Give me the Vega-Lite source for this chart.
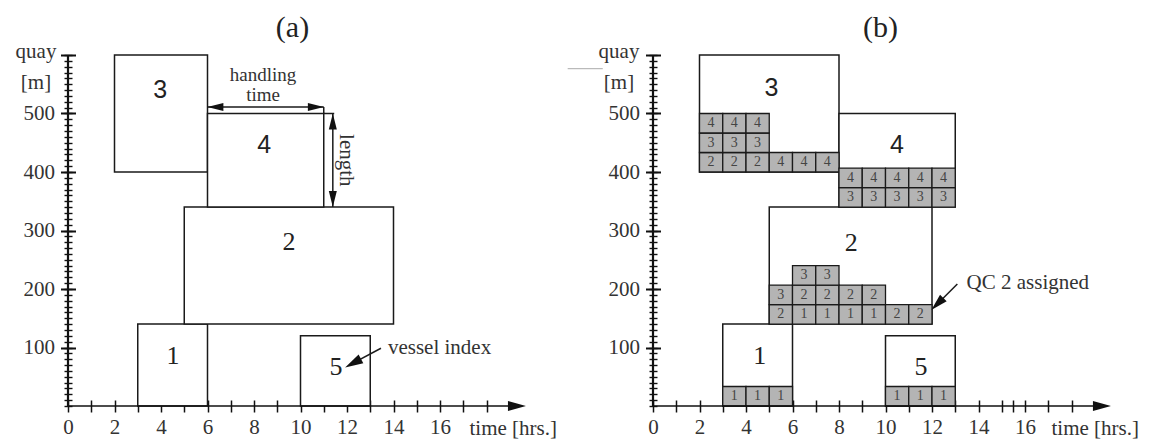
{
  "$schema": "https://vega.github.io/schema/vega-lite/v6.json",
  "background": "white",
  "padding": {"left": 15, "top": 13, "right": 5, "bottom": 5},
  "spacing": 120,
  "bounds": "flush",
  "datasets": {
    "vessels_a": [
      {"v": 1, "t0": 3, "t1": 6, "q0": 0, "q1": 140, "lt": 4.52, "lq": 86},
      {"v": 2, "t0": 5, "t1": 14, "q0": 140, "q1": 340, "lt": 9.51, "lq": 280},
      {"v": 3, "t0": 2, "t1": 6, "q0": 400, "q1": 600, "lt": 3.97, "lq": 540},
      {"v": 4, "t0": 6, "t1": 11, "q0": 340, "q1": 500, "lt": 8.44, "lq": 446},
      {"v": 5, "t0": 10, "t1": 13, "q0": 0, "q1": 120, "lt": 11.53, "lq": 66}
    ],
    "vessels_b": [
      {"v": 1, "t0": 3, "t1": 6, "q0": 0, "q1": 140, "lt": 4.59, "lq": 86},
      {"v": 2, "t0": 5, "t1": 12, "q0": 140, "q1": 340, "lt": 8.53, "lq": 279},
      {"v": 3, "t0": 2, "t1": 8, "q0": 400, "q1": 600, "lt": 5.09, "lq": 544},
      {"v": 4, "t0": 8, "t1": 13, "q0": 340, "q1": 500, "lt": 10.49, "lq": 446},
      {"v": 5, "t0": 10, "t1": 13, "q0": 0, "q1": 120, "lt": 11.53, "lq": 66}
    ],
    "cells_b": [
      {"t0": 2, "t1": 3, "q0": 400, "q1": 433.3, "qc": 2},
      {"t0": 3, "t1": 4, "q0": 400, "q1": 433.3, "qc": 2},
      {"t0": 4, "t1": 5, "q0": 400, "q1": 433.3, "qc": 2},
      {"t0": 5, "t1": 6, "q0": 400, "q1": 433.3, "qc": 4},
      {"t0": 6, "t1": 7, "q0": 400, "q1": 433.3, "qc": 4},
      {"t0": 7, "t1": 8, "q0": 400, "q1": 433.3, "qc": 4},
      {"t0": 2, "t1": 3, "q0": 433.3, "q1": 466.7, "qc": 3},
      {"t0": 3, "t1": 4, "q0": 433.3, "q1": 466.7, "qc": 3},
      {"t0": 4, "t1": 5, "q0": 433.3, "q1": 466.7, "qc": 3},
      {"t0": 2, "t1": 3, "q0": 466.7, "q1": 500, "qc": 4},
      {"t0": 3, "t1": 4, "q0": 466.7, "q1": 500, "qc": 4},
      {"t0": 4, "t1": 5, "q0": 466.7, "q1": 500, "qc": 4},
      {"t0": 8, "t1": 9, "q0": 340, "q1": 373.3, "qc": 3},
      {"t0": 9, "t1": 10, "q0": 340, "q1": 373.3, "qc": 3},
      {"t0": 10, "t1": 11, "q0": 340, "q1": 373.3, "qc": 3},
      {"t0": 11, "t1": 12, "q0": 340, "q1": 373.3, "qc": 3},
      {"t0": 12, "t1": 13, "q0": 340, "q1": 373.3, "qc": 3},
      {"t0": 8, "t1": 9, "q0": 373.3, "q1": 406.7, "qc": 4},
      {"t0": 9, "t1": 10, "q0": 373.3, "q1": 406.7, "qc": 4},
      {"t0": 10, "t1": 11, "q0": 373.3, "q1": 406.7, "qc": 4},
      {"t0": 11, "t1": 12, "q0": 373.3, "q1": 406.7, "qc": 4},
      {"t0": 12, "t1": 13, "q0": 373.3, "q1": 406.7, "qc": 4},
      {"t0": 5, "t1": 6, "q0": 140, "q1": 173.3, "qc": 2},
      {"t0": 6, "t1": 7, "q0": 140, "q1": 173.3, "qc": 1},
      {"t0": 7, "t1": 8, "q0": 140, "q1": 173.3, "qc": 1},
      {"t0": 8, "t1": 9, "q0": 140, "q1": 173.3, "qc": 1},
      {"t0": 9, "t1": 10, "q0": 140, "q1": 173.3, "qc": 1},
      {"t0": 10, "t1": 11, "q0": 140, "q1": 173.3, "qc": 2},
      {"t0": 11, "t1": 12, "q0": 140, "q1": 173.3, "qc": 2},
      {"t0": 5, "t1": 6, "q0": 173.3, "q1": 206.7, "qc": 3},
      {"t0": 6, "t1": 7, "q0": 173.3, "q1": 206.7, "qc": 2},
      {"t0": 7, "t1": 8, "q0": 173.3, "q1": 206.7, "qc": 2},
      {"t0": 8, "t1": 9, "q0": 173.3, "q1": 206.7, "qc": 2},
      {"t0": 9, "t1": 10, "q0": 173.3, "q1": 206.7, "qc": 2},
      {"t0": 6, "t1": 7, "q0": 206.7, "q1": 240, "qc": 3},
      {"t0": 7, "t1": 8, "q0": 206.7, "q1": 240, "qc": 3},
      {"t0": 3, "t1": 4, "q0": 0, "q1": 33.3, "qc": 1},
      {"t0": 4, "t1": 5, "q0": 0, "q1": 33.3, "qc": 1},
      {"t0": 5, "t1": 6, "q0": 0, "q1": 33.3, "qc": 1},
      {"t0": 10, "t1": 11, "q0": 0, "q1": 33.3, "qc": 1},
      {"t0": 11, "t1": 12, "q0": 0, "q1": 33.3, "qc": 1},
      {"t0": 12, "t1": 13, "q0": 0, "q1": 33.3, "qc": 1}
    ],
    "lines_a": [
      {"t": 6, "t2": 11, "q": 511, "q2": 511},
      {"t": 11.39, "t2": 11.39, "q": 340, "q2": 500},
      {"t": 11, "t2": 11, "q": 500, "q2": 511},
      {"t": 11, "t2": 11.45, "q": 500, "q2": 500},
      {"t": 13.46, "t2": 12.26, "q": 98.7, "q2": 73.2}
    ],
    "lines_b": [
      {"t": 13.09, "t2": 12.23, "q": 208.5, "q2": 174.4}
    ],
    "notes_a": [
      {"t": 8.39, "q": 566, "text": "handling"},
      {"t": 8.39, "q": 531.5, "text": "time"}
    ],
    "pointer_a": [
      {"t": 15.98, "q": 98.7, "text": "vessel index"}
    ],
    "length_a": [
      {"t": 11.96, "q": 420, "text": "length"}
    ],
    "notes_b": [
      {"t": 16.12, "q": 210.8, "text": "QC 2 assigned"}
    ]
  },
  "hconcat": [
    {
      "width": 465,
      "height": 351,
      "title": {"text": "(a)", "dx": -8},
      "resolve": {"axis": {"x": "independent", "y": "independent"}},
      "layer": [
        {
          "data": {"name": "vessels_a"},
          "mark": {"type": "rect", "fill": "white", "stroke": "#1a1a1a", "strokeWidth": 1.5},
          "encoding": {
            "x": {"field": "t0", "type": "quantitative", "scale": {"domain": [0, 20], "nice": false},
              "axis": {"orient": "bottom", "values": [0,1,2,3,4,5,6,7,8,9,10,11,12,13,14,15,16,17,18],
                "labelExpr": "(datum.value % 2 === 0 && datum.value <= 16) ? datum.label : ''",
                "tickSize": 12, "offset": -6, "labelPadding": 4, "labelFlush": false, "labelOverlap": false,
                "title": "time [hrs.]", "titleX": 401, "titleY": 28.3, "titleAlign": "left", "titleBaseline": "middle"}},
            "x2": {"field": "t1"},
            "y": {"field": "q0", "type": "quantitative", "scale": {"domain": [0, 600], "nice": false},
              "axis": {"orient": "left", "values": [100,200,300,400,500,600],
                "labelExpr": "datum.value <= 500 ? datum.label : ''",
                "tickSize": 15, "offset": -7.5, "tickWidth": 2, "labelPadding": 6, "labelBaseline": "middle",
                "title": ["quay", "[m]"], "titleAngle": 0, "titleAlign": "center", "titleBaseline": "alphabetic",
                "titleX": -40, "titleY": 2, "titleLineHeight": 31}},
            "y2": {"field": "q1"}
          }
        },
        {
          "data": {"name": "vessels_a"},
          "transform": [{"filter": "datum.v == 1 || datum.v == 2 || datum.v == 5"}],
          "mark": {"type": "text", "font": "Liberation Serif", "fontSize": 26, "fill": "#222", "baseline": "middle"},
          "encoding": {
            "x": {"field": "lt", "type": "quantitative", "axis": null},
            "y": {"field": "lq", "type": "quantitative",
              "axis": {"orient": "left", "tickCount": 60, "tickSize": 8, "offset": -4, "labels": false, "title": null, "tickWidth": 1.4}},
            "text": {"field": "v"}
          }
        },
        {
          "data": {"name": "vessels_a"},
          "transform": [{"filter": "datum.v == 3 || datum.v == 4"}],
          "mark": {"type": "text", "font": "Liberation Sans", "fontSize": 25, "fill": "#222", "baseline": "middle"},
          "encoding": {
            "x": {"field": "lt", "type": "quantitative", "axis": null},
            "y": {"field": "lq", "type": "quantitative", "axis": null},
            "text": {"field": "v"}
          }
        },
        {
          "data": {"name": "lines_a"},
          "mark": {"type": "rule", "stroke": "#1a1a1a", "strokeWidth": 1.5},
          "encoding": {
            "x": {"field": "t", "type": "quantitative", "axis": null},
            "x2": {"field": "t2"},
            "y": {"field": "q", "type": "quantitative", "axis": null},
            "y2": {"field": "q2"}
          }
        },
        {
          "data": {"name": "notes_a"},
          "mark": {"type": "text", "font": "Liberation Serif", "fontSize": 19, "fill": "#333", "baseline": "middle", "align": "center"},
          "encoding": {
            "x": {"field": "t", "type": "quantitative", "axis": null},
            "y": {"field": "q", "type": "quantitative", "axis": null},
            "text": {"field": "text"}
          }
        },
        {
          "data": {"name": "pointer_a"},
          "mark": {"type": "text", "font": "Liberation Serif", "fontSize": 21, "fill": "#333", "baseline": "middle", "align": "center"},
          "encoding": {
            "x": {"field": "t", "type": "quantitative", "axis": null},
            "y": {"field": "q", "type": "quantitative", "axis": null},
            "text": {"field": "text"}
          }
        },
        {
          "data": {"name": "length_a"},
          "mark": {"type": "text", "font": "Liberation Serif", "fontSize": 21, "fill": "#333", "baseline": "middle", "align": "center", "angle": 90},
          "encoding": {
            "x": {"field": "t", "type": "quantitative", "axis": null},
            "y": {"field": "q", "type": "quantitative", "axis": null},
            "text": {"field": "text"}
          }
        },
        {
          "data": {"values": [{}]},
          "mark": {"type": "rule", "stroke": "#111", "strokeWidth": 1.6},
          "encoding": {"x": {"datum": 0, "axis": null}, "x2": {"datum": 18.95}, "y": {"datum": 0, "axis": null}}
        },
        {
          "data": {"values": [{}]},
          "mark": {"type": "rule", "stroke": "#111", "strokeWidth": 2.2},
          "encoding": {"x": {"datum": 0, "axis": null}, "y": {"datum": 0, "axis": null}, "y2": {"datum": 600}}
        },
        {
          "data": {"values": [{}]},
          "mark": {"type": "point", "shape": "M-1,-0.55L1,0L-1,0.55Z", "size": 324, "filled": true, "fill": "#111", "opacity": 1, "strokeWidth": 0},
          "encoding": {"x": {"datum": 19.31, "axis": null}, "y": {"datum": 0, "axis": null}}
        },
        {
          "data": {"values": [{}]},
          "mark": {"type": "point", "shape": "M-1,-0.5L1,0L-1,0.5Z", "size": 256, "filled": true, "fill": "#111", "opacity": 1, "strokeWidth": 0, "angle": 180},
          "encoding": {"x": {"datum": 6.34, "axis": null}, "y": {"datum": 511, "axis": null}}
        },
        {
          "data": {"values": [{}]},
          "mark": {"type": "point", "shape": "M-1,-0.5L1,0L-1,0.5Z", "size": 256, "filled": true, "fill": "#111", "opacity": 1, "strokeWidth": 0, "angle": 0},
          "encoding": {"x": {"datum": 10.66, "axis": null}, "y": {"datum": 511, "axis": null}}
        },
        {
          "data": {"values": [{}]},
          "mark": {"type": "point", "shape": "M-1,-0.5L1,0L-1,0.5Z", "size": 256, "filled": true, "fill": "#111", "opacity": 1, "strokeWidth": 0, "angle": -90},
          "encoding": {"x": {"datum": 11.39, "axis": null}, "y": {"datum": 486.3, "axis": null}}
        },
        {
          "data": {"values": [{}]},
          "mark": {"type": "point", "shape": "M-1,-0.5L1,0L-1,0.5Z", "size": 256, "filled": true, "fill": "#111", "opacity": 1, "strokeWidth": 0, "angle": 90},
          "encoding": {"x": {"datum": 11.39, "axis": null}, "y": {"datum": 353.7, "axis": null}}
        },
        {
          "data": {"values": [{}]},
          "mark": {"type": "point", "shape": "M-1,-0.55L1,0L-1,0.55Z", "size": 324, "filled": true, "fill": "#111", "opacity": 1, "strokeWidth": 0, "angle": 151.5},
          "encoding": {"x": {"datum": 12.26, "axis": null}, "y": {"datum": 73.2, "axis": null}}
        }
      ]
    },
    {
      "width": 465,
      "height": 351,
      "title": {"text": "(b)", "dx": -5},
      "resolve": {"axis": {"x": "independent", "y": "independent"}},
      "layer": [
        {
          "data": {"name": "vessels_b"},
          "mark": {"type": "rect", "fill": "white", "stroke": "#1a1a1a", "strokeWidth": 1.5},
          "encoding": {
            "x": {"field": "t0", "type": "quantitative", "scale": {"domain": [0, 20], "nice": false},
              "axis": {"orient": "bottom", "values": [0,1,2,3,4,5,6,7,8,9,10,11,12,13,14,15,15.5,16,17,18],
                "labelExpr": "(datum.value % 2 === 0 && datum.value <= 16) ? datum.label : ''",
                "tickSize": 12, "offset": -6, "labelPadding": 4, "labelFlush": false, "labelOverlap": false,
                "title": "time [hrs.]", "titleX": 398, "titleY": 28.3, "titleAlign": "left", "titleBaseline": "middle"}},
            "x2": {"field": "t1"},
            "y": {"field": "q0", "type": "quantitative", "scale": {"domain": [0, 600], "nice": false},
              "axis": {"orient": "left", "values": [100,200,300,400,500,600],
                "labelExpr": "datum.value <= 500 ? datum.label : ''",
                "tickSize": 15, "offset": -7.5, "tickWidth": 2, "labelPadding": 6, "labelBaseline": "middle",
                "title": ["quay", "[m]"], "titleAngle": 0, "titleAlign": "center", "titleBaseline": "alphabetic",
                "titleX": -42, "titleY": 2, "titleLineHeight": 31}},
            "y2": {"field": "q1"}
          }
        },
        {
          "data": {"name": "cells_b"},
          "mark": {"type": "rect", "fill": "#b4b4b4", "stroke": "#1a1a1a", "strokeWidth": 1.3},
          "encoding": {
            "x": {"field": "t0", "type": "quantitative", "axis": null},
            "x2": {"field": "t1"},
            "y": {"field": "q0", "type": "quantitative",
              "axis": {"orient": "left", "tickCount": 60, "tickSize": 8, "offset": -4, "labels": false, "title": null, "tickWidth": 1.4}},
            "y2": {"field": "q1"}
          }
        },
        {
          "data": {"name": "cells_b"},
          "mark": {"type": "text", "font": "Liberation Serif", "fontSize": 14, "fill": "#444", "baseline": "middle", "align": "center", "dx": 11.6, "dy": -9.7},
          "encoding": {
            "x": {"field": "t0", "type": "quantitative", "axis": null},
            "y": {"field": "q0", "type": "quantitative", "axis": null},
            "text": {"field": "qc"}
          }
        },
        {
          "data": {"name": "vessels_b"},
          "transform": [{"filter": "datum.v == 1 || datum.v == 2 || datum.v == 5"}],
          "mark": {"type": "text", "font": "Liberation Serif", "fontSize": 26, "fill": "#222", "baseline": "middle"},
          "encoding": {
            "x": {"field": "lt", "type": "quantitative", "axis": null},
            "y": {"field": "lq", "type": "quantitative", "axis": null},
            "text": {"field": "v"}
          }
        },
        {
          "data": {"name": "vessels_b"},
          "transform": [{"filter": "datum.v == 3 || datum.v == 4"}],
          "mark": {"type": "text", "font": "Liberation Sans", "fontSize": 25, "fill": "#222", "baseline": "middle"},
          "encoding": {
            "x": {"field": "lt", "type": "quantitative", "axis": null},
            "y": {"field": "lq", "type": "quantitative", "axis": null},
            "text": {"field": "v"}
          }
        },
        {
          "data": {"name": "lines_b"},
          "mark": {"type": "rule", "stroke": "#1a1a1a", "strokeWidth": 1.5},
          "encoding": {
            "x": {"field": "t", "type": "quantitative", "axis": null},
            "x2": {"field": "t2"},
            "y": {"field": "q", "type": "quantitative", "axis": null},
            "y2": {"field": "q2"}
          }
        },
        {
          "data": {"name": "notes_b"},
          "mark": {"type": "text", "font": "Liberation Serif", "fontSize": 21, "fill": "#333", "baseline": "middle", "align": "center"},
          "encoding": {
            "x": {"field": "t", "type": "quantitative", "axis": null},
            "y": {"field": "q", "type": "quantitative", "axis": null},
            "text": {"field": "text"}
          }
        },
        {
          "data": {"values": [{}]},
          "mark": {"type": "rule", "stroke": "#111", "strokeWidth": 1.6},
          "encoding": {"x": {"datum": 0, "axis": null}, "x2": {"datum": 18.95}, "y": {"datum": 0, "axis": null}}
        },
        {
          "data": {"values": [{}]},
          "mark": {"type": "rule", "stroke": "#111", "strokeWidth": 2.2},
          "encoding": {"x": {"datum": 0, "axis": null}, "y": {"datum": 0, "axis": null}, "y2": {"datum": 600}}
        },
        {
          "data": {"values": [{}]},
          "mark": {"type": "rule", "stroke": "#aaa", "strokeWidth": 1},
          "encoding": {"x": {"datum": -3.67, "axis": null}, "x2": {"datum": -2.16}, "y": {"datum": 576.6, "axis": null}}
        },
        {
          "data": {"values": [{}]},
          "mark": {"type": "point", "shape": "M-1,-0.55L1,0L-1,0.55Z", "size": 324, "filled": true, "fill": "#111", "opacity": 1, "strokeWidth": 0},
          "encoding": {"x": {"datum": 19.31, "axis": null}, "y": {"datum": 0, "axis": null}}
        },
        {
          "data": {"values": [{}]},
          "mark": {"type": "point", "shape": "M-1,-0.55L1,0L-1,0.55Z", "size": 289, "filled": true, "fill": "#111", "opacity": 1, "strokeWidth": 0, "angle": 135},
          "encoding": {"x": {"datum": 12.23, "axis": null}, "y": {"datum": 174.4, "axis": null}}
        }
      ]
    }
  ],
  "config": {
    "view": {"stroke": null},
    "font": "Liberation Serif",
    "axis": {"grid": false, "domain": false, "labelFont": "Liberation Serif", "labelFontSize": 21, "labelColor": "#333",
      "titleFont": "Liberation Serif", "titleFontSize": 21, "titleFontWeight": "normal", "titleColor": "#333",
      "tickColor": "#111", "tickWidth": 1.5},
    "title": {"font": "Liberation Serif", "fontSize": 30, "fontWeight": "normal", "color": "#222", "anchor": "middle", "baseline": "alphabetic", "offset": -3}
  }
}
